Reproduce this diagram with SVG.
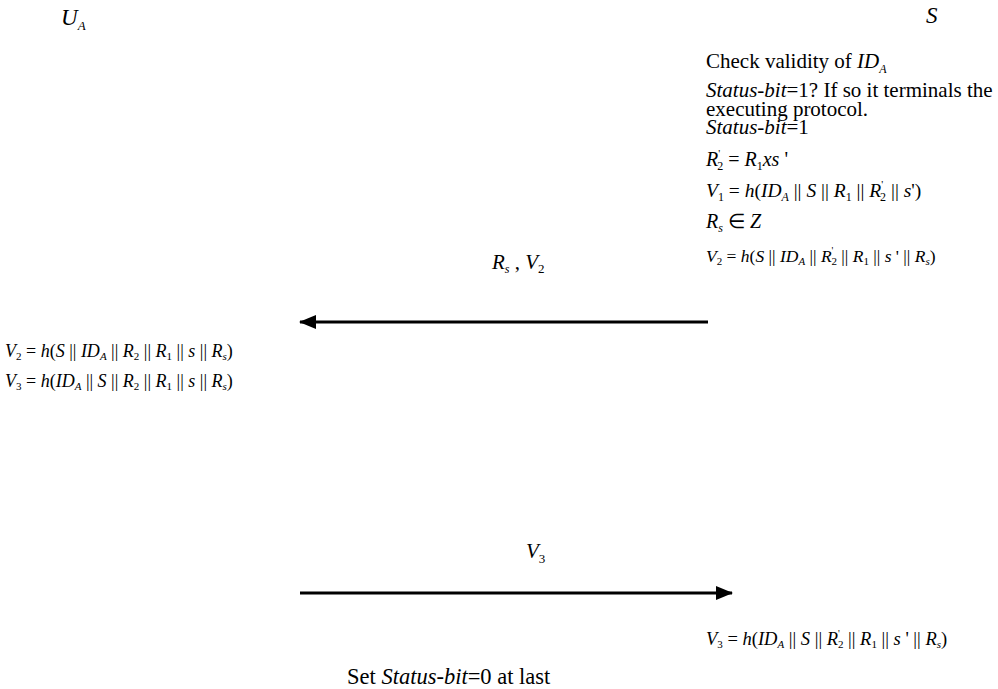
<svg xmlns="http://www.w3.org/2000/svg" width="998" height="689" viewBox="0 0 998 689">
<style>
text{font-family:"Liberation Serif","Times New Roman",serif;fill:#000}
.i{font-style:italic}
.line{stroke:#000;stroke-width:3;fill:none}
</style>
<defs>
<marker id="ah" markerWidth="17" markerHeight="14" refX="16" refY="7" orient="auto" markerUnits="userSpaceOnUse">
<path d="M0,0 L17,7 L0,14 Z" fill="#000"/>
</marker>
</defs>
<rect width="998" height="689" fill="#fff"/>

<g id="UA">
<text class="i" font-size="23" x="61" y="25">U<tspan font-size="13" dy="5">A</tspan></text>
</g>
<g id="S">
<text class="i" font-size="23" x="926" y="23">S</text>
</g>

<g id="server-steps">
<text x="706" y="68" font-size="21">Check validity of  <tspan class="i">ID</tspan><tspan class="i" font-size="12" dy="5">A</tspan></text>
<text x="706" y="97" font-size="21"><tspan class="i">Status-bit</tspan>=1? If so it terminals the</text>
<text x="706" y="116" font-size="21">executing protocol.</text>
<text x="706" y="134" font-size="21"><tspan class="i">Status-bit</tspan>=1</text>
<text x="706" y="166" font-size="20"><tspan class="i">R</tspan><tspan font-size="11" dy="-9">'</tspan><tspan font-size="12" dx="-3" dy="13">2</tspan><tspan dy="-4"> = </tspan><tspan class="i">R</tspan><tspan font-size="12" dy="4">1</tspan><tspan class="i" dy="-4">xs</tspan> '</text>
<text x="706" y="197" font-size="19.5"><tspan class="i">V</tspan><tspan font-size="12" dy="4">1</tspan><tspan dy="-4"> = </tspan><tspan class="i">h</tspan>(<tspan class="i">ID</tspan><tspan class="i" font-size="12" dy="4">A</tspan><tspan dy="-4"> || </tspan><tspan class="i">S</tspan> || <tspan class="i">R</tspan><tspan font-size="12" dy="4">1</tspan><tspan dy="-4"> || </tspan><tspan class="i">R</tspan><tspan font-size="11" dy="-9">'</tspan><tspan font-size="12" dx="-3" dy="13">2</tspan><tspan dy="-4"> || </tspan><tspan class="i">s</tspan>')</text>
<text x="706" y="228" font-size="20"><tspan class="i">R</tspan><tspan class="i" font-size="12" dy="4">s</tspan><tspan dy="-4"> ∈ </tspan><tspan class="i">Z</tspan></text>
<text x="706" y="262" font-size="17.5"><tspan class="i">V</tspan><tspan font-size="11" dy="3">2</tspan><tspan dy="-3"> = </tspan><tspan class="i">h</tspan>(<tspan class="i">S</tspan> || <tspan class="i">ID</tspan><tspan class="i" font-size="11" dy="3">A</tspan><tspan dy="-3"> || </tspan><tspan class="i">R</tspan><tspan font-size="10" dy="-8">'</tspan><tspan font-size="11" dx="-2" dy="11">2</tspan><tspan dy="-3"> || </tspan><tspan class="i">R</tspan><tspan font-size="11" dy="3">1</tspan><tspan dy="-3"> || </tspan><tspan class="i">s</tspan> ' || <tspan class="i">R</tspan><tspan class="i" font-size="11" dy="3">s</tspan><tspan dy="-3">)</tspan></text>
</g>

<g id="user-steps">
<text x="5" y="357" font-size="18"><tspan class="i">V</tspan><tspan font-size="11" dy="3">2</tspan><tspan dy="-3"> = </tspan><tspan class="i">h</tspan>(<tspan class="i">S</tspan> || <tspan class="i">ID</tspan><tspan class="i" font-size="11" dy="3">A</tspan><tspan dy="-3"> || </tspan><tspan class="i">R</tspan><tspan font-size="11" dy="3">2</tspan><tspan dy="-3"> || </tspan><tspan class="i">R</tspan><tspan font-size="11" dy="3">1</tspan><tspan dy="-3"> || </tspan><tspan class="i">s</tspan> || <tspan class="i">R</tspan><tspan class="i" font-size="11" dy="3">s</tspan><tspan dy="-3">)</tspan></text>
<text x="5" y="387" font-size="18"><tspan class="i">V</tspan><tspan font-size="11" dy="3">3</tspan><tspan dy="-3"> = </tspan><tspan class="i">h</tspan>(<tspan class="i">ID</tspan><tspan class="i" font-size="11" dy="3">A</tspan><tspan dy="-3"> || </tspan><tspan class="i">S</tspan> || <tspan class="i">R</tspan><tspan font-size="11" dy="3">2</tspan><tspan dy="-3"> || </tspan><tspan class="i">R</tspan><tspan font-size="11" dy="3">1</tspan><tspan dy="-3"> || </tspan><tspan class="i">s</tspan> || <tspan class="i">R</tspan><tspan class="i" font-size="11" dy="3">s</tspan><tspan dy="-3">)</tspan></text>
</g>

<g id="server-final">
<text x="706" y="645" font-size="18.5"><tspan class="i">V</tspan><tspan font-size="11" dy="3">3</tspan><tspan dy="-3"> = </tspan><tspan class="i">h</tspan>(<tspan class="i">ID</tspan><tspan class="i" font-size="11" dy="3">A</tspan><tspan dy="-3"> || </tspan><tspan class="i">S</tspan> || <tspan class="i">R</tspan><tspan font-size="10" dy="-8">'</tspan><tspan font-size="11" dx="-2" dy="11">2</tspan><tspan dy="-3"> || </tspan><tspan class="i">R</tspan><tspan font-size="11" dy="3">1</tspan><tspan dy="-3"> || </tspan><tspan class="i">s</tspan> ' || <tspan class="i">R</tspan><tspan class="i" font-size="11" dy="3">s</tspan><tspan dy="-3">)</tspan></text>
<text x="347" y="684" font-size="22.5">Set <tspan class="i">Status-bit</tspan>=0 at last</text>
</g>

<g id="connectors">
<line class="line" x1="708" y1="322" x2="300" y2="322" marker-end="url(#ah)"/>
<text x="492" y="269" font-size="21"><tspan class="i">R</tspan><tspan class="i" font-size="12" dy="4">s</tspan><tspan dy="-4"> , </tspan><tspan class="i">V</tspan><tspan font-size="13" dy="4">2</tspan></text>
<line class="line" x1="300" y1="593" x2="732" y2="593" marker-end="url(#ah)"/>
<text x="526" y="558" font-size="21"><tspan class="i">V</tspan><tspan font-size="13" dy="5">3</tspan></text>
</g>
</svg>
